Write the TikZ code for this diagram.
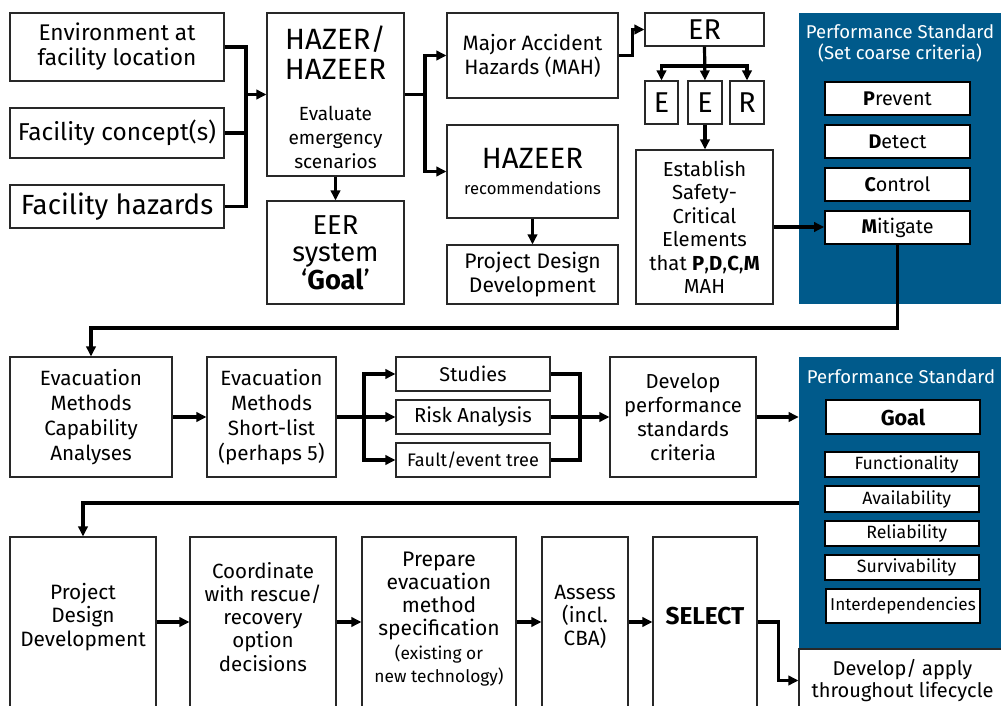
\documentclass[tikz,border=0pt]{standalone}
\usepackage{fontspec}
\setmainfont{Fira Sans}
\usetikzlibrary{arrows.meta,calc}
\definecolor{psblue}{RGB}{0,90,139}
\definecolor{boxline}{RGB}{40,40,40}
\newcommand{\fs}[2]{\fontsize{#1}{#2}\selectfont}
\newcommand{\bx}[7]{\node[#1,minimum width={(#5-#3)*0.75pt},minimum height={(#6-#4)*0.75pt}] (#2) at ({(#3+#5)/2},{(#4+#6)/2}) {#7};}
\begin{document}
\begin{tikzpicture}[x=0.75pt,y=-0.75pt,
  box/.style={draw=boxline,line width=0.8pt,fill=white,align=center,inner sep=0pt},
  wbox/.style={draw=black,line width=1.2pt,fill=white,align=center,inner sep=0pt},
  panel/.style={fill=psblue,draw=none,inner sep=0pt},
  lnk/.style={line width=2.4pt,line join=miter},
  arr/.style={lnk,-{Triangle[length=7.5pt,width=7pt]}},
  ttl/.style={text=white,align=center,inner sep=0pt},
  txt/.style={align=center,inner sep=0pt}]
\useasboundingbox (0,0) rectangle (1001,706);
\clip (0,0) rectangle (1001,706);
% panels
\bx{panel}{ps1}{799}{13}{1006}{304}{}
\bx{panel}{ps2}{799}{357}{1006}{649}{}
\node[ttl,font=\fs{13.9}{15.75}] (ps1t) at (900,43) {Performance Standard\\(Set coarse criteria)};
\node[ttl,font=\fs{13.9}{15.75}] (ps2t) at (901,377) {Performance Standard};
% top row
\bx{box,font=\fs{17}{18.75}}{env}{10}{13}{224}{81}{Environment at\\facility location}
\bx{box,font=\fs{18.3}{20}}{concept}{10}{108}{224}{158}{Facility concept(s)}
\bx{box,font=\fs{20.8}{22}}{hazards}{10}{185}{224}{228}{Facility hazards}
\bx{box}{hazer}{267}{13}{404}{176}{}
\node[txt,font=\fs{22}{22.5}] (hazert) at (335.5,53) {HAZER/\\HAZEER};
\node[txt,font=\fs{14.3}{18}] (hazers) at (335.5,137) {Evaluate\\emergency\\scenarios};
\bx{box,font=\fs{20.5}{20.5}}{goal}{267}{201}{404}{304}{EER\\system\\‘\textbf{Goal}’}
\bx{box,font=\fs{15.6}{18}}{mah}{447}{13}{618}{98}{Major Accident\\Hazards (MAH)}
\bx{box,font=\fs{22}{20}}{rec}{447}{125}{618}{218}{HAZEER\\{\fs{12.5}{15}recommendations}}
\bx{box,font=\fs{15.8}{18}}{pdd1}{447}{245}{618}{304}{Project Design\\Development}
\bx{box,font=\fs{21.5}{21}}{er}{645}{13}{764}{46}{ER}
\bx{box,font=\fs{21.5}{21}}{e1}{645}{81}{678}{124}{E}
\bx{box,font=\fs{21.5}{21}}{e2}{688}{81}{722}{124}{E}
\bx{box,font=\fs{21.5}{21}}{r}{730}{81}{764}{124}{R}
\bx{box,font=\fs{15.2}{17.6}}{est}{636}{150}{773}{304}{Establish\\Safety-\\Critical\\Elements\\that \textbf{P},\textbf{D},\textbf{C},\textbf{M}\\MAH}
\bx{wbox,font=\fs{14.8}{15}}{prev}{825}{82}{970}{115}{\textbf{P}revent}
\bx{wbox,font=\fs{14.8}{15}}{det}{825}{125}{970}{158}{\textbf{D}etect}
\bx{wbox,font=\fs{14.8}{15}}{ctrl}{825}{168}{970}{201}{\textbf{C}ontrol}
\bx{wbox,font=\fs{14.8}{15}}{mit}{825}{211}{970}{244}{\textbf{M}itigate}
% middle row
\bx{box,font=\fs{15.5}{18.75}}{emca}{10}{357}{172}{477}{Evacuation\\Methods\\Capability\\Analyses}
\bx{box,font=\fs{15.5}{18.75}}{emsl}{207}{357}{336}{477}{Evacuation\\Methods\\Short-list\\(perhaps 5)}
\bx{box,font=\fs{14.9}{16}}{stud}{396}{357}{550}{391}{Studies}
\bx{box,font=\fs{15.2}{16}}{risk}{396}{400}{550}{434}{Risk Analysis}
\bx{box,font=\fs{13.6}{14}}{fault}{396}{443}{550}{477}{Fault/event tree}
\bx{box,font=\fs{15.2}{18}}{dev}{610}{357}{756}{477}{Develop\\performance\\standards\\criteria}
\bx{wbox,font=\fs{16.2}{16}}{pgoal}{826}{400}{980}{434}{\textbf{Goal}}
\bx{wbox,font=\fs{13.3}{14}}{func}{825}{452}{979}{477}{\hspace*{7pt}Functionality}
\bx{wbox,font=\fs{13.3}{14}}{avail}{825}{486}{979}{512}{\hspace*{7pt}Availability}
\bx{wbox,font=\fs{13.3}{14}}{rel}{825}{521}{979}{546}{\hspace*{7pt}Reliability}
\bx{wbox,font=\fs{13.3}{14}}{surv}{825}{555}{979}{580}{\hspace*{7pt}Survivability}
\bx{wbox,font=\fs{12.85}{14}}{inter}{826}{589}{980}{623}{Interdependencies}
% bottom row
\bx{box}{pdd2}{10}{537}{156}{712}{}
\node[txt,font=\fs{15.6}{17.5}] (pdd2t) at (83,617) {Project\\Design\\Development};
\bx{box}{coord}{190}{537}{336}{712}{}
\node[txt,font=\fs{15.4}{17.3}] (coordt) at (263,617) {Coordinate\\with rescue/\\recovery\\option\\decisions};
\bx{box}{prep}{362}{537}{516}{712}{}
\node[txt,font=\fs{15.8}{17.3}] (prept) at (439,619) {Prepare\\evacuation\\method\\specification\\{\fs{13}{14}(existing or}\\{\fs{13}{14}new technology)}};
\bx{box}{assess}{542}{537}{628}{712}{}
\node[txt,font=\fs{15.5}{17.5}] (assesst) at (585,617) {Assess\\(incl.\\CBA)};
\bx{box}{sel}{653}{537}{757}{712}{}
\node[txt,font=\fs{18.3}{18}] (selt) at (705,616) {\textbf{SELECT}};
\bx{box,font=\fs{15}{16.5}}{dev2}{799}{649}{1006}{712}{Develop/ apply\\throughout lifecycle}
% connectors
\coordinate (b1) at (246,94.5);
\draw[lnk] (env.east) -| (b1) |- (hazards.east);
\draw[lnk] (concept.east) -- (concept.east -| b1);
\draw[arr] (b1) -- (hazer.west);
\draw[arr] (hazer.south) -- (goal.north);
\coordinate (b2) at (425,94.5);
\draw[lnk] (hazer.east) -- (b2);
\draw[arr] (b2) |- (mah.west);
\draw[arr] (b2) |- (rec.west);
\draw[arr] (rec.south) -- (pdd1.north);
\draw[arr] (mah.east) -- ++(14,0) |- (er.west);
\draw[arr] (er.south) -- (e2.north);
\coordinate (b3) at (704.5,66);
\draw[arr] (b3) -| (e1.north);
\draw[arr] (b3) -| (r.north);
\draw[arr] (e2.south) -- (est.north -| e2.south);
\draw[arr] (est.east) -- (est.east -| mit.west);
\coordinate (b4) at (91,328);
\draw[arr] (mit.south) |- (b4) -- (emca.north);
\draw[arr] (emca.east) -- (emsl.west);
\coordinate (b5) at (364,417);
\draw[lnk] (emsl.east) -- (b5);
\draw[arr] (b5) |- (stud.west);
\draw[arr] (b5) -- (risk.west);
\draw[arr] (b5) |- (fault.west);
\coordinate (b6) at (580,417);
\draw[lnk] (stud.east) -| (b6) |- (fault.east);
\draw[lnk] (risk.east) -- (b6);
\draw[arr] (b6) -- (dev.west);
\draw[arr] (dev.east) -- (dev.east -| ps2.west);
\draw[arr] (ps2.west) -| (pdd2.north);
\coordinate (r3) at (0,622);
\draw[arr] (pdd2.east |- r3) -- (coord.west |- r3);
\draw[arr] (coord.east |- r3) -- (prep.west |- r3);
\draw[arr] (prep.east |- r3) -- (assess.west |- r3);
\draw[arr] (assess.east |- r3) -- (sel.west |- r3);
\draw[arr] (sel.east |- r3) -- ++(21,0) |- (dev2.west);
\end{tikzpicture}
\end{document}
